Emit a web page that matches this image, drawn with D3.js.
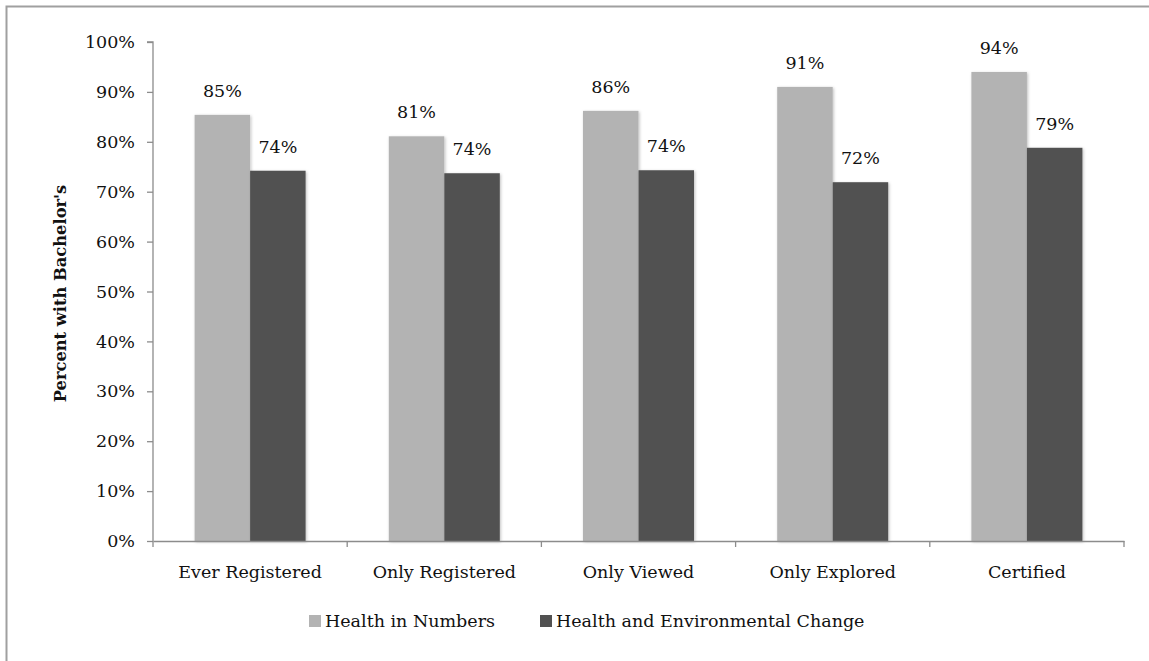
<!DOCTYPE html>
<html>
<head>
<meta charset="utf-8">
<script src="https://cdn.jsdelivr.net/npm/d3@7"></script>
<style>
  html, body { margin: 0; padding: 0; background: #fff; }
  svg { display: block; }
  text { font-family: "DejaVu Serif", "Liberation Serif", serif; fill: #111; }
</style>
</head>
<body>
<svg id="chart" width="1149" height="661"></svg>
<script>
const categories = ["Ever Registered", "Only Registered", "Only Viewed", "Only Explored", "Certified"];
const seriesNames = ["Health in Numbers", "Health and Environmental Change"];
const healthInNumbers = [0.854, 0.811, 0.862, 0.910, 0.940];
const healthEnvChange = [0.742, 0.737, 0.743, 0.719, 0.788];
const barLabelsHIN = ["85%", "81%", "86%", "91%", "94%"];
const barLabelsHEC = ["74%", "74%", "74%", "72%", "79%"];
const yTicks = [0, 0.1, 0.2, 0.3, 0.4, 0.5, 0.6, 0.7, 0.8, 0.9, 1.0];
const colors = ["#b3b3b3", "#515151"];

const FONT = "DejaVu Serif";
const FS = 17.5;

const svg = d3.select("#chart");
const x0 = 153, x1 = 1124, yTop = 42, yBot = 541;

// outer border (extends past the visible area on right/bottom)
svg.append("rect").attr("x", 6.5).attr("y", 6.5).attr("width", 1160).attr("height", 680)
  .attr("fill", "#fff").attr("stroke", "#a0a0a0").attr("stroke-width", 2);

const defs = svg.append("defs");
const f = defs.append("filter").attr("id", "shadow").attr("x", "-10%").attr("y", "-10%").attr("width", "130%").attr("height", "130%");
f.append("feDropShadow").attr("dx", 1).attr("dy", 1).attr("stdDeviation", 1.5).attr("flood-color", "#000").attr("flood-opacity", 0.25);

const x = d3.scaleBand().domain(categories).range([x0, x1]);
const y = d3.scaleLinear().domain([0, 1]).range([yBot, yTop]);
const barW = 55.5;
const xs = d3.scaleBand().domain(seriesNames)
  .range([x.bandwidth() / 2 - barW, x.bandwidth() / 2 + barW]);

const data = [healthInNumbers, healthEnvChange];
const labels = [barLabelsHIN, barLabelsHEC];

// bars
const g = svg.append("g");
seriesNames.forEach((s, si) => {
  g.selectAll(".bar" + si).data(categories).enter().append("rect")
    .attr("x", c => x(c) + xs(s))
    .attr("y", (c, i) => y(data[si][i]))
    .attr("width", xs.bandwidth())
    .attr("height", (c, i) => yBot - y(data[si][i]))
    .attr("fill", colors[si])
    .attr("filter", "url(#shadow)");
});

// axes
const yAxis = d3.axisLeft(y).tickValues(yTicks).tickFormat(d3.format(".0%")).tickSize(6).tickPadding(12);
const ya = svg.append("g").attr("transform", `translate(${x0},0)`).call(yAxis);
ya.select(".domain").attr("stroke", "#8c8c8c").attr("stroke-width", 1.3).attr("d", `M-6,${yTop}H0V${yBot}`);
ya.selectAll(".tick line").attr("stroke", "#8c8c8c").attr("stroke-width", 1.3);
ya.selectAll(".tick text").attr("font-size", FS).attr("fill", "#111").attr("font-family", FONT);

const xAxis = d3.axisBottom(x).tickSize(0).tickPadding(25);
const xa = svg.append("g").attr("transform", `translate(0,${yBot})`).call(xAxis);
xa.select(".domain").attr("stroke", "#8c8c8c").attr("stroke-width", 1.3);
xa.selectAll(".tick text").attr("font-size", FS).attr("fill", "#111").attr("font-family", FONT);
const bounds = categories.map(c => x(c)).concat([x1]);
xa.selectAll(".btick").data(bounds).enter().append("line")
  .attr("x1", d => d).attr("x2", d => d).attr("y1", 0).attr("y2", 6)
  .attr("stroke", "#8c8c8c").attr("stroke-width", 1.3);

// value labels
seriesNames.forEach((s, si) => {
  svg.selectAll(".lab" + si).data(categories).enter().append("text")
    .attr("x", c => x(c) + xs(s) + xs.bandwidth() / 2)
    .attr("y", (c, i) => y(data[si][i]) - 18)
    .attr("text-anchor", "middle")
    .attr("font-size", FS)
    .text((c, i) => labels[si][i]);
});

// y axis title
svg.append("text")
  .attr("transform", `translate(66,${(yTop + yBot) / 2 + 2}) rotate(-90)`)
  .attr("text-anchor", "middle")
  .attr("font-size", 16.3).attr("font-weight", "bold")
  .text("Percent with Bachelor's");

// legend
const legendItems = [{ name: seriesNames[0], x: 309 }, { name: seriesNames[1], x: 540 }];
const lg = svg.append("g");
legendItems.forEach((it, i) => {
  lg.append("rect").attr("x", it.x).attr("y", 615).attr("width", 12).attr("height", 12).attr("fill", colors[i]);
  lg.append("text").attr("x", it.x + 16).attr("y", 627).attr("font-size", FS).text(it.name);
});
</script>
</body>
</html>
